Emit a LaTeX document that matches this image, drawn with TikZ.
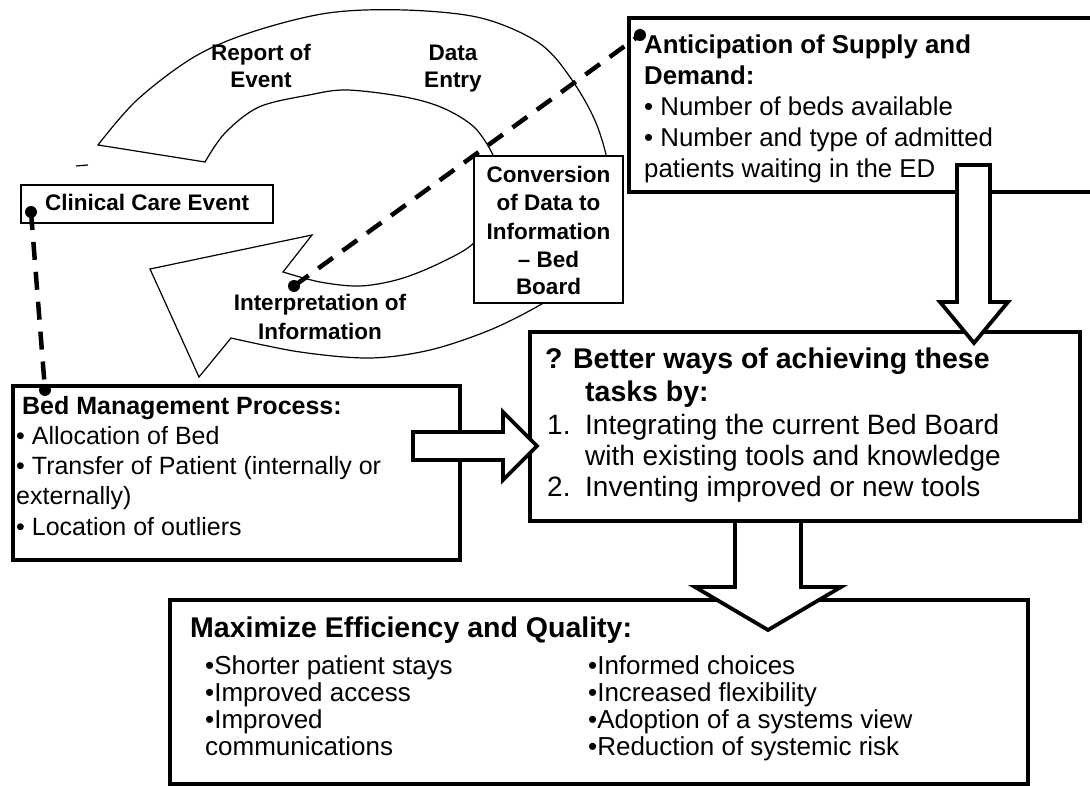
\documentclass[tikz,border=0pt]{standalone}
\usepackage{fontspec}
\setmainfont{Liberation Sans}
\begin{document}
\begin{tikzpicture}[x=1pt,y=-1pt,
  boxthin/.style={draw, line width=1.3pt, fill=white, rectangle, inner sep=0pt},
  boxthick/.style={draw, line width=3.2pt, fill=white, rectangle, inner sep=0pt},
  blockarrow/.style={draw, line width=3.8pt, fill=white, line join=miter},
  ringarrow/.style={draw, line width=1.2pt, fill=white, line join=miter},
  dashline/.style={line width=4.5pt, dash pattern=on 18pt off 12pt},
  dotnode/.style={circle, fill=black, inner sep=0pt, minimum size=12pt},
  cl/.style={inner sep=0pt, anchor=base},
  ll/.style={inner sep=0pt, anchor=base west},
  fsmallb/.style={font=\fontsize{22.5}{27}\selectfont\bfseries},
  fant/.style={font=\fontsize{25.8}{30}\selectfont},
  fantb/.style={font=\fontsize{25.8}{30}\selectfont\bfseries},
  fbed/.style={font=\fontsize{25}{30}\selectfont},
  fbedb/.style={font=\fontsize{25}{30}\selectfont\bfseries},
  fbet/.style={font=\fontsize{28}{32}\selectfont},
  fbetb/.style={font=\fontsize{28.5}{32}\selectfont\bfseries},
  fmax/.style={font=\fontsize{26}{30}\selectfont},
  fmaxb/.style={font=\fontsize{28.5}{32}\selectfont\bfseries}
]
\useasboundingbox (0,0) rectangle (1090,786);
\clip (0,0) rectangle (1090,786);
\fill[white] (0,0) rectangle (1090,786);

% ring arrow
\draw[ringarrow] plot[smooth, tension=0.55] coordinates {(98,145) (137,100) (194,57) (252,32) (328,13) (405,10) (481,18) (539,43) (572,80) (598,128) (611,185) (604,240) (578,280) (540,305) (490,330) (430,350) (370,358) (300,352) (231,338)}
  -- (199,377) -- (150,269) -- (312,235)
  -- plot[smooth, tension=0.55] coordinates {(283,272) (320,282) (360,286) (400,279) (440,263) (474,243) (497,210) (500,180) (493,155) (474,127) (443,108) (405,97) (347,90) (309,95) (259,107) (225,133) (205,162)}
  -- cycle;
\draw[line width=1.2pt] (76,166) -- (88,165);

% boxes
\node[boxthin, minimum width=149pt, minimum height=147pt] (conv) at (548.5,229.5) {};
\node[boxthin, minimum width=252pt, minimum height=38pt] (clin) at (147,204) {};
\node[boxthick, minimum width=471pt, minimum height=174pt] (ant) at (864.5,105) {};
\node[boxthick, minimum width=447pt, minimum height=174pt] (bed) at (236.5,473) {};
\node[boxthick, line width=3.6pt, minimum width=550pt, minimum height=189pt] (better) at (805,426.5) {};
\node[boxthick, minimum width=858pt, minimum height=184pt] (max) at (599,692) {};

% block arrows
\draw[blockarrow] (957,165) -- (990,165) -- (990,302) -- (1008,302) -- (974,343) -- (940,302) -- (957,302) -- cycle;
\draw[blockarrow] (413,432) -- (503,432) -- (503,412) -- (537,446) -- (503,480) -- (503,460) -- (413,460) -- cycle;
\draw[blockarrow] (735,521) -- (801,521) -- (801,587) -- (841,587) -- (768,630) -- (695,587) -- (735,587) -- cycle;

% dots and dashed connectors
\node[dotnode] (dclin) at (31,212) {};
\node[dotnode] (dbed) at (45,390) {};
\node[dotnode] (dint) at (294,286) {};
\node[dotnode] (dant) at (640,35) {};
\draw[dashline] (dclin.center) -- (dbed.center);
\draw[dashline] (dint.center) -- (dant.center);

% ring labels
\node[cl, fsmallb] (rep1) at (261,61) {Report of};
\node[cl, fsmallb] (rep2) at (261,88) {Event};
\node[cl, fsmallb] (dat1) at (453,61) {Data};
\node[cl, fsmallb] (dat2) at (453,88) {Entry};
\node[cl, fsmallb] (int1) at (320,311) {Interpretation of};
\node[cl, fsmallb] (int2) at (320,340) {Information};

% conversion text
\node[cl, fsmallb] (cv1) at (548.5,183) {Conversion};
\node[cl, fsmallb] (cv2) at (548.5,211) {of Data to};
\node[cl, fsmallb] (cv3) at (548.5,240) {Information};
\node[cl, fsmallb] (cv4) at (548.5,268) {– Bed};
\node[cl, fsmallb] (cv5) at (548.5,295) {Board};

% clinical
\node[ll, fsmallb] (clt) at (45,211) {Clinical Care Event};

% anticipation
\node[ll, fantb] (an1) at (644,54) {Anticipation of Supply and};
\node[ll, fantb] (an2) at (644,85) {Demand:};
\node[ll, fant] (an3) at (644,116) {• Number of beds available};
\node[ll, fant] (an4) at (644,147) {• Number and type of admitted};
\node[ll, fant] (an5) at (644,178) {patients waiting in the ED};

% bed management
\node[ll, fbedb] (bm1) at (22,414) {Bed Management Process:};
\node[ll, fbed] (bm2) at (16,444) {• Allocation of Bed};
\node[ll, fbed] (bm3) at (16,474) {• Transfer of Patient (internally or};
\node[ll, fbed] (bm4) at (16,504) {externally)};
\node[ll, fbed] (bm5) at (16,535) {• Location of outliers};

% better ways
\node[ll, fbetb] (bw1) at (545,368) {? Better ways of achieving these};
\node[ll, fbetb] (bw2) at (585,401) {tasks by:};
\node[ll, fbet] (bw3n) at (547,434) {1.};
\node[ll, fbet] (bw3) at (585,434) {Integrating the current Bed Board};
\node[ll, fbet] (bw4) at (585,465) {with existing tools and knowledge};
\node[ll, fbet] (bw5n) at (547,496) {2.};
\node[ll, fbet] (bw5) at (585,496) {Inventing improved or new tools};

% maximize
\node[ll, fmaxb] (mx0) at (190,637) {Maximize Efficiency and Quality:};
\node[ll, fmax] (mxa1) at (205,674) {•Shorter patient stays};
\node[ll, fmax] (mxa2) at (205,701) {•Improved access};
\node[ll, fmax] (mxa3) at (205,728) {•Improved};
\node[ll, fmax] (mxa4) at (205,755) {communications};
\node[ll, fmax] (mxb1) at (588,674) {•Informed choices};
\node[ll, fmax] (mxb2) at (588,701) {•Increased flexibility};
\node[ll, fmax] (mxb3) at (588,728) {•Adoption of a systems view};
\node[ll, fmax] (mxb4) at (588,755) {•Reduction of systemic risk};
\end{tikzpicture}
\end{document}
